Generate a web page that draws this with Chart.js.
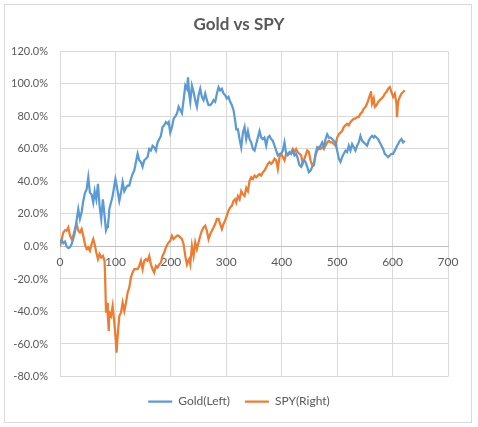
<!DOCTYPE html>
<html>
<head>
<meta charset="utf-8">
<script src="https://cdn.jsdelivr.net/npm/chart.js@4.4.1/dist/chart.umd.min.js"></script>
<style>
html,body{margin:0;padding:0;background:#fff;}
canvas{display:block;}
</style>
</head>
<body>
<canvas id="c" width="478" height="427"></canvas>
<script>
// x positions (trading-day index) at which values were read
const days = [0,3,6,9,12,15,18,21,24,27,30,33,36,39,42,45,48,51,54,57,60,62.5,65.5,68.5,71.4,74.4,77.4,80.4,81.5,83,85,86.3,88,89,92,95,98,100,102,104,107,110,113,116,119,122,125,128,131,134,137,140,143,146,149,152,155,158,161,164,167,170,173,176,179,182,185,188,191,194,196,199,202,205,208,211,
214,217,220,223,226,229,231,233,235,238,241,244,247,250,253,256,259,262,265,268,271,274,277,280,283,286,289,292,295,298,301,304,307,310,313,316,318,321,324,327,330,333,336,339,342,345,348,351,354,357,360,363,366,369,372,375,378,381,384,387,390,393,396,399,402,405,408,411,414,417,420,423,426,
429,432,435,438,441,444,446,449,452,455,458,461,464,467,470,473,476,479,482,485,488,491,494,497,500,503,506,509,512,515,518,521,524,527,530,533,536,539,542,545,548,551,554,557,560,561,563,566,568,571,574,577,580,583,586,589,592,595,598,601,604,607,608,610,613,616,619,622];

// Gold cumulative return (%), left axis
const gold = [2.5,4,2,3,0,-1,-0.5,1.5,5,9,16,23,17,21,28,33,35,42.6,33,32,27,34,29,38.5,25,17,29,19,15,10,12,13,18,23,27,31,37.5,41.5,38,34,28,33,39.5,34,36,37.5,37.5,41.5,44.6,46.7,52,57,53,52,49,53,54,55,60,59,62,61,59,64,66,68,73.5,74.5,76.5,75.5,76.5,70,73.5,78.6,80,81.7,
86,84,82,90,99,97,104,94,89,99,95,90,86,93,97,92,90,94,90,87,87,88,90,89,94,98,96,97,94,93,91,92,89,87,84,77.6,72,72,66,61,70,73.5,66,71,66,64,60,59,63,67,71,67,66,67,62,67,68,66,65,62,59,56,57,57,59,64,57,57,58,57,59,56,57,
54,50,49,52,53,51,49,45.7,46.7,49,50,57,61,60,62,64,61,66,69,67,67,66,65,64,59,54,52,55,57,59,58,62,59,63,61,59,62,64,68,65,64,63,62,65,67,67,68,67,68,67,66,64,62,60,57,56,55,56,57,57,59,61,62,63,65,66,64,65];

// SPY cumulative return (%), plotted on the same scale
const spy = [0,4.5,8.6,10,9.7,11.7,6.6,4.5,6.6,10.7,13.8,9.7,8.6,10.7,6.6,1.4,-1.6,-0.6,-2.7,1.4,4.5,1.4,-3.7,-7.8,-4.7,-6.8,-5.8,-8.8,-20,-40.7,-34.6,-42.8,-52,-40.7,-42.8,-36.6,-47,-55,-65.4,-55,-42.8,-40.7,-34.6,-39.7,-34.6,-28.4,-25.3,-19,-16,-14,-14,-14,-12,-8.8,-14,-8.8,-7.8,-8.8,-5.8,-11,-14,-16,-12,-13,-11,-10,-5.8,-3.7,-0.6,1.4,2.5,3.5,6.6,4.5,5.6,6.6,
6.6,5.6,4.5,1.4,-5.8,-11,-9,-7.8,-11,0.4,-5.8,2.5,-1.6,2.5,6.6,9.7,11.7,12.8,9.7,4.5,7.6,9.7,11.7,13.8,17,17,13.8,10.7,13.8,16,19,22,24,25,28,29,27,31,29,34,32,31,36,34,40.5,42.6,41.5,43.6,42.6,43.6,44.6,43.6,45.7,46.7,48.8,50.8,51.9,50.8,51.9,54,53,47.7,55,57,55,53,57,56,57,58,60,58,60,
58,57,56,51,54,57,59,58,53,50,51,56,59,61,60,61,60,62,64,65,64,64,63,62,67,69,70,71,73.5,74.5,75.5,74.5,76.5,77.6,78.6,78.6,79.6,79.6,81.7,82.7,84.8,85.8,87.9,91,94,95.5,87.9,91,85.8,86.8,89,90,91,92,94,95,97,98,95,92,94,88,79.6,89,92,94,95,96];

const yTicks = [-80,-60,-40,-20,0,20,40,60,80,100,120];
const xTicks = [0,100,200,300,400,500,600,700];
const seriesNames = ['Gold(Left)','SPY(Right)'];

const FONT = 'Lato, "Open Sans", sans-serif';
const frame = {
  id:'frame',
  beforeDraw(chart){
    const ctx=chart.ctx;
    ctx.save();
    ctx.fillStyle='#fff';
    ctx.fillRect(0,0,chart.width,chart.height);
    ctx.strokeStyle='#d9d9d9';
    ctx.lineWidth=1;
    ctx.strokeRect(4.5,4.5,467,418);
    ctx.restore();
  }
};

new Chart(document.getElementById('c'), {
  type:'line',
  data:{
    datasets:[
      {label:seriesNames[0], data:days.map((d,i)=>({x:d,y:gold[i]})), borderColor:'#5B9BD5', backgroundColor:'#5B9BD5', borderWidth:2.25, pointRadius:0, tension:0},
      {label:seriesNames[1], data:days.map((d,i)=>({x:d,y:spy[i]})), borderColor:'#ED7D31', backgroundColor:'#ED7D31', borderWidth:2.25, pointRadius:0, tension:0}
    ]
  },
  options:{
    responsive:false,
    animation:false,
    devicePixelRatio:1,
    layout:{padding:{left:0,right:0,top:0,bottom:9.5}},
    plugins:{
      title:{display:true,text:'Gold vs SPY',color:'#595959',font:{family:FONT,size:17,weight:'bold'},padding:{top:14,bottom:17}},
      legend:{position:'bottom',
        title:{display:true,text:' ',font:{size:1,lineHeight:1},padding:{top:0,bottom:3}},
        labels:{color:'#595959',font:{family:FONT,size:12},usePointStyle:true,pointStyle:'line',pointStyleWidth:24,padding:15}},
      tooltip:{enabled:false}
    },
    scales:{
      x:{type:'linear',position:{y:0},min:0,max:700,
         afterBuildTicks(s){s.ticks=xTicks.map(v=>({value:v}));},
         grid:{color:'#d9d9d9',drawTicks:false},
         border:{color:'#bfbfbf'},
         ticks:{color:'#595959',font:{family:FONT,size:12},padding:8,maxRotation:0}},
      y:{type:'linear',min:-80,max:120,
         afterBuildTicks(s){s.ticks=yTicks.map(v=>({value:v}));},
         afterFit(s){s.width=60;},
         grid:{color:'#d9d9d9',drawTicks:false},
         border:{display:false},
         ticks:{color:'#595959',font:{family:FONT,size:11},padding:12,callback:v=>v.toFixed(1)+'%'}},
      yr:{type:'linear',position:'right',min:-80,max:120,
         afterFit(s){s.width=30;},
         grid:{display:false,drawOnChartArea:false,drawTicks:false},
         border:{display:false},
         ticks:{display:false}}
    }
  },
  plugins:[frame]
});
</script>
</body>
</html>
